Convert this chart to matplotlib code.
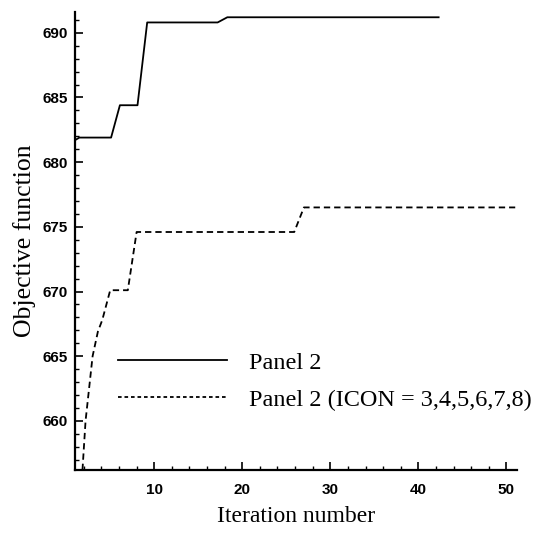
import matplotlib.pyplot as plt
from matplotlib.ticker import MultipleLocator

# Panel 2 (solid) - objective function by iteration
panel_x = [1.0, 1.5, 5.1, 6.1, 8.1, 9.2, 17.2, 18.3, 42.3]
panel_y = [681.7, 681.9, 681.9, 684.4, 684.4, 690.8, 690.8, 691.2, 691.2]

# Panel 2 with ICON = 3..8 (dashed)
icon_x = [1.85, 2.2, 3.0, 3.6, 4.1, 5.0, 7.0, 8.0, 25.9, 27.0, 51.0]
icon_y = [656.2, 660.0, 665.0, 666.9, 667.8, 670.1, 670.1, 674.6, 674.6, 676.5, 676.5]

labels = ['Panel 2', 'Panel 2 (ICON = 3,4,5,6,7,8)']

serif = ['Liberation Serif', 'DejaVu Serif']
sans = ['Liberation Sans', 'DejaVu Sans']

fig = plt.figure(figsize=(5.45, 5.40), dpi=100)
ax = fig.add_axes([0.1376, 0.1296, 0.811, 0.848])

ax.plot(panel_x, panel_y, color='black', lw=1.3, label=labels[0])
ax.plot(icon_x, icon_y, color='black', lw=1.3, dashes=(3.5, 2.2), label=labels[1])

ax.set_xlim(1, 51.2)
ax.set_ylim(656.2, 691.6)

ax.xaxis.set_major_locator(MultipleLocator(10))
ax.xaxis.set_minor_locator(MultipleLocator(2))
ax.yaxis.set_major_locator(MultipleLocator(5))
ax.yaxis.set_minor_locator(MultipleLocator(1))

for s in ['top', 'right']:
    ax.spines[s].set_visible(False)
for s in ['left', 'bottom']:
    ax.spines[s].set_linewidth(1.6)

ax.tick_params(which='major', direction='in', length=6, width=1.2)
ax.tick_params(which='minor', direction='in', length=3, width=1.0)
ax.tick_params(axis='x', pad=9)
ax.tick_params(axis='y', pad=5)
for lab in ax.get_xticklabels() + ax.get_yticklabels():
    lab.set_family(sans)
    lab.set_fontweight('bold')
    lab.set_fontsize(11)

ax.set_xlabel('Iteration number', family=serif, fontsize=17, labelpad=7)
ax.set_ylabel('Objective function', family=serif, fontsize=18.5, labelpad=5)

leg = ax.legend(loc='upper left', bbox_to_anchor=(0.097, 0.258), frameon=False,
                borderaxespad=0, borderpad=0,
                prop={'family': serif, 'size': 17.5}, handlelength=4.5,
                handletextpad=0.9, labelspacing=0.62)
leg.get_lines()[1].set_dashes((2.0, 1.6))

fig.savefig('out.png', dpi=100)
